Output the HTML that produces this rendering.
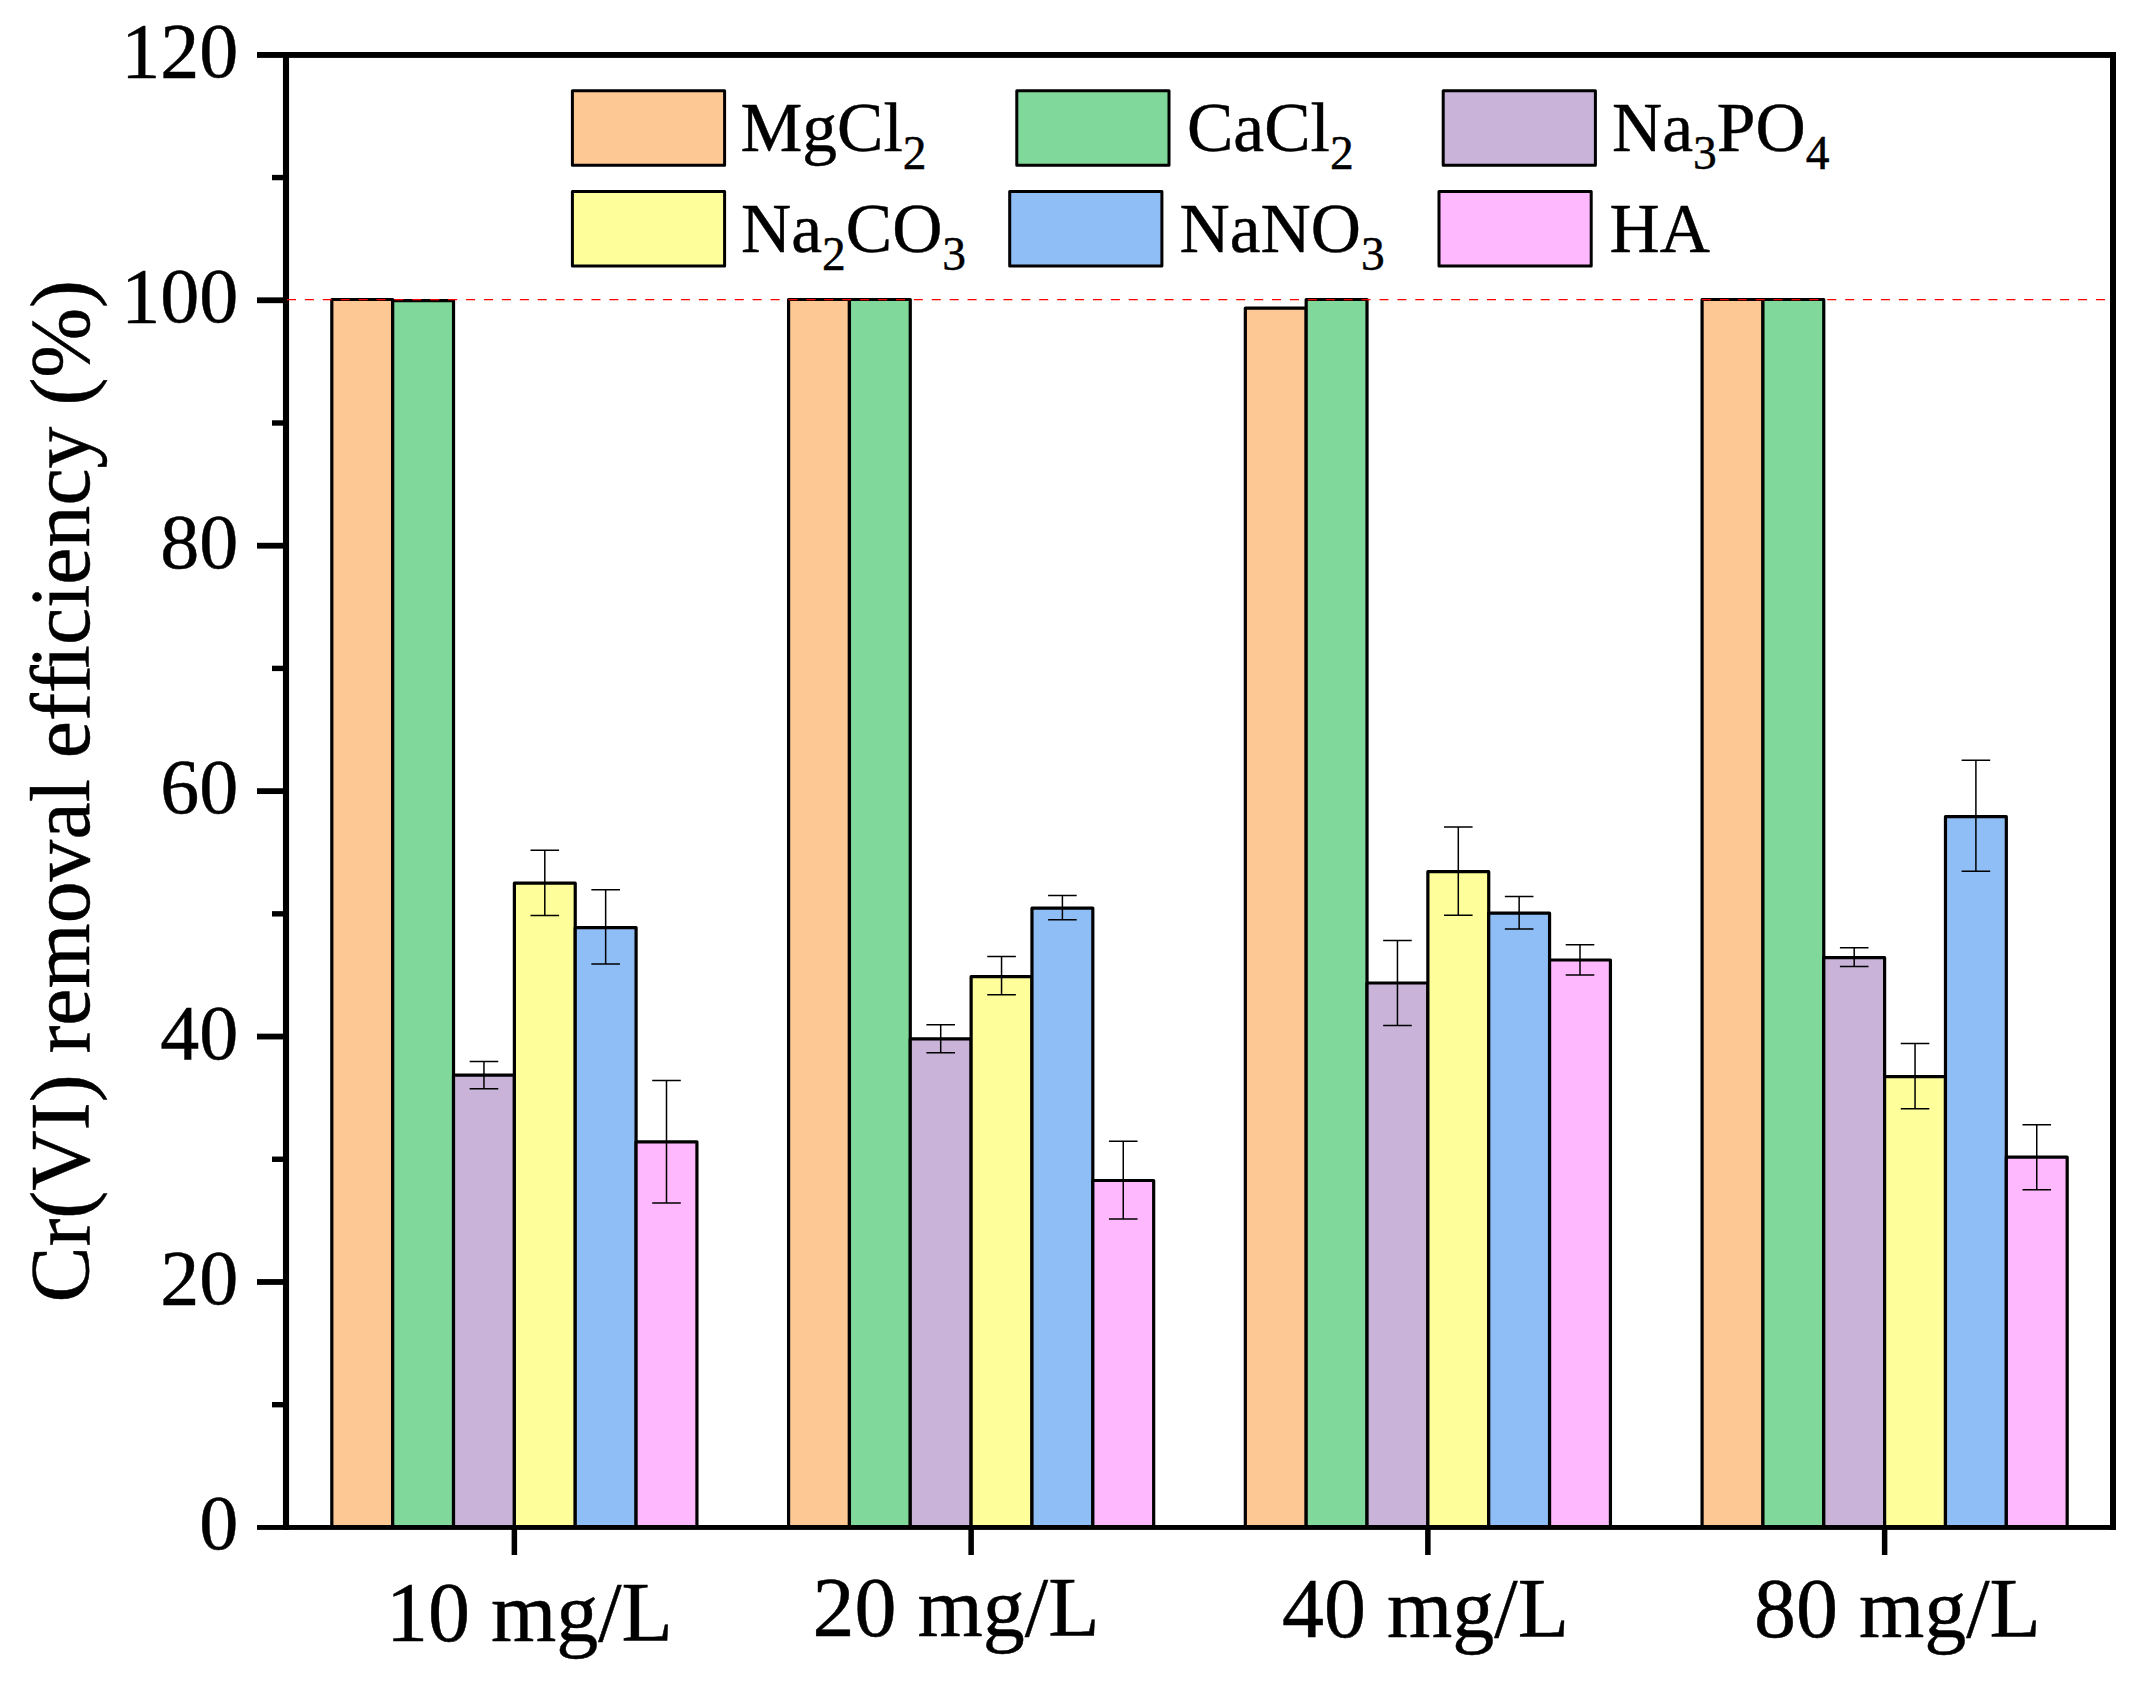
<!DOCTYPE html>
<html lang="en"><head><meta charset="utf-8"><title>Cr(VI) removal efficiency</title>
<style>
html,body{margin:0;padding:0;background:#fff;}
body{width:2153px;height:1684px;overflow:hidden;}
svg{display:block;}
text{font-family:"Liberation Serif","Times New Roman",Times,serif;fill:#000;stroke:#000;stroke-width:0.45px;font-variant-ligatures:none;font-kerning:none;}
.yt{font-size:78px;text-anchor:end;}
.xt{font-size:84px;}
.lg{font-size:69.5px;}
.sub{font-size:47.5px;}
.ttl{font-size:83.75px;}
</style></head><body>
<svg width="2153" height="1684" viewBox="0 0 2153 1684">
<rect x="0" y="0" width="2153" height="1684" fill="#fff"/>
<g stroke="#000" stroke-width="3.2" stroke-linejoin="round">
<rect x="331.82" y="299.50" width="60.85" height="1227.90" fill="#FEC895"/>
<rect x="392.68" y="300.70" width="60.85" height="1226.70" fill="#80D89B"/>
<rect x="453.52" y="1075.20" width="60.85" height="452.20" fill="#C9B3D8"/>
<rect x="514.38" y="883.20" width="60.85" height="644.20" fill="#FEFE9A"/>
<rect x="575.23" y="927.60" width="60.85" height="599.80" fill="#8FBEF6"/>
<rect x="636.08" y="1141.80" width="60.85" height="385.60" fill="#FEB9FE"/>
<rect x="788.58" y="299.50" width="60.85" height="1227.90" fill="#FEC895"/>
<rect x="849.42" y="299.50" width="60.85" height="1227.90" fill="#80D89B"/>
<rect x="910.27" y="1038.80" width="60.85" height="488.60" fill="#C9B3D8"/>
<rect x="971.12" y="976.70" width="60.85" height="550.70" fill="#FEFE9A"/>
<rect x="1031.97" y="908.20" width="60.85" height="619.20" fill="#8FBEF6"/>
<rect x="1092.83" y="1180.50" width="60.85" height="346.90" fill="#FEB9FE"/>
<rect x="1245.33" y="308.10" width="60.85" height="1219.30" fill="#FEC895"/>
<rect x="1306.17" y="299.50" width="60.85" height="1227.90" fill="#80D89B"/>
<rect x="1367.03" y="983.00" width="60.85" height="544.40" fill="#C9B3D8"/>
<rect x="1427.88" y="871.70" width="60.85" height="655.70" fill="#FEFE9A"/>
<rect x="1488.72" y="913.20" width="60.85" height="614.20" fill="#8FBEF6"/>
<rect x="1549.58" y="960.00" width="60.85" height="567.40" fill="#FEB9FE"/>
<rect x="1702.08" y="299.50" width="60.85" height="1227.90" fill="#FEC895"/>
<rect x="1762.92" y="299.50" width="60.85" height="1227.90" fill="#80D89B"/>
<rect x="1823.78" y="957.70" width="60.85" height="569.70" fill="#C9B3D8"/>
<rect x="1884.62" y="1076.70" width="60.85" height="450.70" fill="#FEFE9A"/>
<rect x="1945.47" y="816.70" width="60.85" height="710.70" fill="#8FBEF6"/>
<rect x="2006.33" y="1157.10" width="60.85" height="370.30" fill="#FEB9FE"/>
</g>
<g stroke="#000" stroke-width="1.5" fill="none">
<path d="M469.65 1061.60H498.25M483.95 1061.60V1088.80M469.65 1088.80H498.25"/>
<path d="M530.50 850.30H559.10M544.80 850.30V915.40M530.50 915.40H559.10"/>
<path d="M591.35 889.70H619.95M605.65 889.70V963.90M591.35 963.90H619.95"/>
<path d="M652.20 1080.40H680.80M666.50 1080.40V1203.00M652.20 1203.00H680.80"/>
<path d="M926.40 1024.80H955.00M940.70 1024.80V1052.80M926.40 1052.80H955.00"/>
<path d="M987.25 956.60H1015.85M1001.55 956.60V994.80M987.25 994.80H1015.85"/>
<path d="M1048.10 895.50H1076.70M1062.40 895.50V919.80M1048.10 919.80H1076.70"/>
<path d="M1108.95 1141.30H1137.55M1123.25 1141.30V1218.90M1108.95 1218.90H1137.55"/>
<path d="M1383.15 940.40H1411.75M1397.45 940.40V1025.60M1383.15 1025.60H1411.75"/>
<path d="M1444.00 827.00H1472.60M1458.30 827.00V915.30M1444.00 915.30H1472.60"/>
<path d="M1504.85 896.50H1533.45M1519.15 896.50V928.90M1504.85 928.90H1533.45"/>
<path d="M1565.70 944.80H1594.30M1580.00 944.80V974.90M1565.70 974.90H1594.30"/>
<path d="M1839.90 947.80H1868.50M1854.20 947.80V966.40M1839.90 966.40H1868.50"/>
<path d="M1900.75 1043.60H1929.35M1915.05 1043.60V1108.70M1900.75 1108.70H1929.35"/>
<path d="M1961.60 760.30H1990.20M1975.90 760.30V871.20M1961.60 871.20H1990.20"/>
<path d="M2022.45 1124.70H2051.05M2036.75 1124.70V1189.80M2022.45 1189.80H2051.05"/>
</g>
<g fill="#000">
<rect x="257" y="52.00" width="1859.00" height="5.90"/>
<rect x="257" y="1525.00" width="1859.00" height="4.90"/>
<rect x="282.95" y="52.00" width="6.10" height="1477.90"/>
<rect x="2110.00" y="52.00" width="6.00" height="1477.90"/>
<rect x="272" y="1401.99" width="12" height="5.4"/>
<rect x="257" y="1279.08" width="27" height="5.8"/>
<rect x="272" y="1156.56" width="12" height="5.4"/>
<rect x="257" y="1033.65" width="27" height="5.8"/>
<rect x="272" y="911.14" width="12" height="5.4"/>
<rect x="257" y="788.23" width="27" height="5.8"/>
<rect x="272" y="665.71" width="12" height="5.4"/>
<rect x="257" y="542.80" width="27" height="5.8"/>
<rect x="272" y="420.29" width="12" height="5.4"/>
<rect x="257" y="297.37" width="27" height="5.8"/>
<rect x="272" y="174.86" width="12" height="5.4"/>
<rect x="511.62" y="1528.90" width="5.5" height="26.10"/>
<rect x="968.38" y="1528.90" width="5.5" height="26.10"/>
<rect x="1425.12" y="1528.90" width="5.5" height="26.10"/>
<rect x="1881.88" y="1528.90" width="5.5" height="26.10"/>
</g>
<line x1="287.00" y1="299.55" x2="2113.00" y2="299.55" stroke="#F00" stroke-width="1.25" stroke-dasharray="9 8.91"/>
<text class="yt" x="238.3" y="1549.40">0</text>
<text class="yt" x="238.3" y="1303.98">20</text>
<text class="yt" x="238.3" y="1058.55">40</text>
<text class="yt" x="238.3" y="813.12">60</text>
<text class="yt" x="238.3" y="567.70">80</text>
<text class="yt" x="238.3" y="322.27">100</text>
<text class="yt" x="238.3" y="76.85">120</text>
<text class="xt" x="385.88" y="1640.60">10 mg/L</text>
<text class="xt" x="812.48" y="1636.00">20 mg/L</text>
<text class="xt" x="1281.99" y="1637.00">40 mg/L</text>
<text class="xt" x="1753.90" y="1637.00">80 mg/L</text>
<text class="ttl" transform="translate(89.3 1302.4) rotate(-90)" dx="0 0 0 0 0 0 0 0 0 0 0 0 0 0 0 0 0 0 -3.2 0 0 0 0 0 0 0 0 0 0">Cr(VI) removal efficiency (%)</text>
<rect x="572.40" y="90.80" width="152.20" height="74.40" fill="#FEC895" stroke="#000" stroke-width="3" stroke-linejoin="round"/>
<rect x="1016.80" y="90.80" width="152.20" height="74.40" fill="#80D89B" stroke="#000" stroke-width="3" stroke-linejoin="round"/>
<rect x="1443.20" y="90.80" width="152.20" height="74.40" fill="#C9B3D8" stroke="#000" stroke-width="3" stroke-linejoin="round"/>
<rect x="572.40" y="191.50" width="152.20" height="74.40" fill="#FEFE9A" stroke="#000" stroke-width="3" stroke-linejoin="round"/>
<rect x="1009.70" y="191.50" width="152.20" height="74.40" fill="#8FBEF6" stroke="#000" stroke-width="3" stroke-linejoin="round"/>
<rect x="1439.00" y="191.50" width="152.20" height="74.40" fill="#FEB9FE" stroke="#000" stroke-width="3" stroke-linejoin="round"/>
<text class="lg" x="740.5" y="151.1">MgCl<tspan class="sub" dy="17.6">2</tspan></text>
<text class="lg" x="1187.0" y="151.1">CaCl<tspan class="sub" dy="17.6">2</tspan></text>
<text class="lg" x="1612.0" y="151.1">Na<tspan class="sub" dy="17.6">3</tspan><tspan dy="-17.6">PO</tspan><tspan class="sub" dy="17.6">4</tspan></text>
<text class="lg" x="741.0" y="252.3">Na<tspan class="sub" dy="17.6">2</tspan><tspan dy="-17.6">CO</tspan><tspan class="sub" dy="17.6">3</tspan></text>
<text class="lg" x="1179.5" y="252.3">NaNO<tspan class="sub" dy="17.6">3</tspan></text>
<text class="lg" x="1609.5" y="252.3">HA</text>
</svg>
</body></html>
